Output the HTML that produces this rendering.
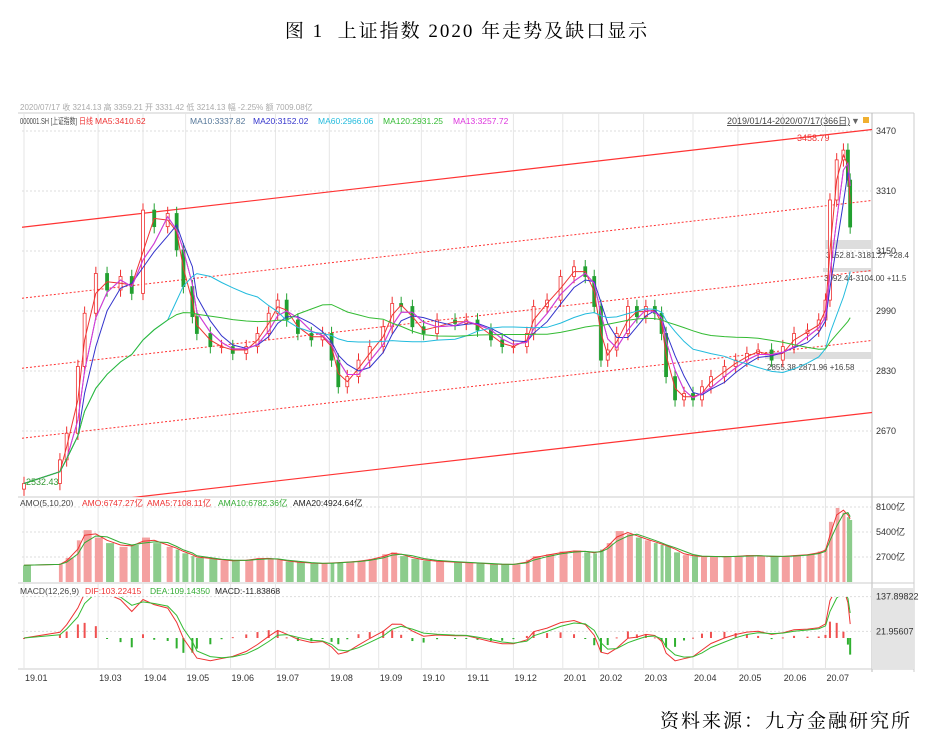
<!DOCTYPE html>
<html><head><meta charset="utf-8">
<style>
body{margin:0;background:#fff;width:934px;height:746px;overflow:hidden;font-family:"Liberation Sans","Noto Sans CJK SC",sans-serif;}
#title{position:absolute;left:0;width:934px;top:16px;text-align:center;font-family:"Liberation Serif","Noto Serif CJK SC",serif;font-size:19px;letter-spacing:2px;}
#source{position:absolute;right:22px;top:706px;font-family:"Liberation Serif","Noto Serif CJK SC",serif;font-size:19px;letter-spacing:2px;}
svg{position:absolute;left:0;top:0;}
</style></head><body>
<div id="title">图 1&nbsp; 上证指数 2020 年走势及缺口显示</div>
<svg id="c" width="934" height="746"></svg>
<div id="source">资料来源：九方金融研究所</div>
<script>
// trading-day index of sampled points
const dayIdx=[0,16,19,24,27,32,37,43,48,53,58,64,68,71,75,77,83,88,93,99,104,109,113,117,122,128,133,137,140,144,149,154,160,164,168,173,178,184,192,197,202,208,213,218,224,227,233,239,245,250,254,257,260,264,269,273,277,281,284,286,290,294,298,302,306,312,317,322,327,333,338,343,349,354,357,359,362,365,367,368];
const closes=[2530,2593,2664,2842,2984,3090,3046,3082,3037,3259,3215,3250,3153,3055,2975,2930,2895,2895,2877,2895,2930,2984,3019,2966,2930,2913,2930,2859,2788,2815,2859,2895,2948,3010,3002,2948,2930,2966,2957,2966,2939,2913,2895,2895,2930,3002,3019,3082,3108,3082,3002,2859,2886,2930,3002,2975,3002,2984,2930,2815,2753,2770,2753,2788,2815,2842,2859,2877,2886,2859,2895,2930,2939,2966,3019,3286,3393,3419,3339,3214];
const volumes=[1800,2000,2600,4500,5600,4800,4200,3800,4000,4800,4200,3800,3500,3100,2800,2600,2500,2300,2300,2400,2600,2500,2400,2200,2100,2000,2000,2100,2100,2200,2300,2500,3000,3200,2800,2500,2300,2200,2100,2100,2000,1900,1900,1900,2400,2800,3000,3300,3400,3200,3100,3500,4200,5500,5200,4800,4500,4200,4000,3900,3200,2900,2800,2700,2800,2700,2800,2900,2800,2700,2800,2900,3000,3300,3600,6500,8000,7500,7000,6700];
const priceTicks=[3470,3310,3150,2990,2830,2670];
const volTicks=[8100,5400,2700];
const macdTicks=[137.89822,21.95607];
const monthLabels=["19.01","19.03","19.04","19.05","19.06","19.07","19.08","19.09","19.10","19.11","19.12","20.01","20.02","20.03","20.04","20.05","20.06","20.07"];
const monthDays=[0,33,53,72,92,112,136,158,177,197,218,240,256,276,298,318,338,357];

var svg=document.getElementById('c');
var NS='http://www.w3.org/2000/svg';
function mk(tag,attrs,parent){var e=document.createElementNS(NS,tag);for(var k in attrs)e.setAttribute(k,attrs[k]);(parent||svg).appendChild(e);return e;}
function txt(x,y,s,fill,size,tl){var a={x:x,y:y,fill:fill||'#333','font-size':size||9};if(tl){a.textLength=tl;a.lengthAdjust='spacingAndGlyphs';}var t=mk('text',a);t.textContent=s;return t;}
var X0=24,XS=2.245,AX=872;
function xS(d){return X0+d*XS;}
function yP(p){return 131+(3470-p)*0.375;}
function yV(v){return 582-v/8100*75;}
function yM(m){return 638-m*0.3;}
function ma(arr,n){return arr.map(function(v,i){var s=arr.slice(Math.max(0,i-n+1),i+1);var t=0;for(var j=0;j<s.length;j++)t+=s[j];return t/s.length;});}
function pathLine(vals,yf,col,g,w){var d=vals.map(function(v,i){return (i?'L':'M')+xS(dayIdx[i]).toFixed(1)+','+yf(v).toFixed(1);}).join('');return mk('path',{d:d,fill:'none',stroke:col,'stroke-width':w||1},g);}
function ema(arr,n){var a=2/(n+1);var e=arr[0];return arr.map(function(v){e=e+a*(v-e);return e;});}
</script>
<script>
// frames and grid
mk('line',{x1:18,y1:113,x2:914,y2:113,stroke:'#ccc'});
mk('line',{x1:914,y1:113,x2:914,y2:672,stroke:'#ccc'});
mk('line',{x1:AX,y1:113,x2:AX,y2:672,stroke:'#bbb'});
mk('line',{x1:18,y1:497,x2:914,y2:497,stroke:'#ccc'});
mk('line',{x1:18,y1:583,x2:914,y2:583,stroke:'#ccc'});
mk('line',{x1:18,y1:669,x2:914,y2:669,stroke:'#ccc'});
mk('rect',{x:AX,y:588,width:42,height:81,fill:'#e4e4e4'});
txt(20,110,'2020/07/17  收 3214.13  高 3359.21  开 3331.42  低 3214.13  幅 -2.25%  额 7009.08亿','#aaa',8);
monthDays.forEach(function(d,i){var x=xS(d);
 [[113,497],[497,583],[583,669]].forEach(function(r){mk('line',{x1:x,y1:r[0],x2:x,y2:r[1],stroke:'#e6e6e6'});});
 var t=txt(x+1,681,monthLabels[i],'#333',9);});
</script>
<script>
// MACD panel
txt(20,594,'MACD(12,26,9)','#444',8.5);txt(85,594,'DIF:103.22415','#e33',8.5);txt(150,594,'DEA:109.14350','#3a3',8.5);txt(215,594,'MACD:-11.83868','#222',8.5);
macdTicks.forEach(function(v){mk('line',{x1:22,y1:yM(v),x2:AX,y2:yM(v),stroke:'#ddd','stroke-dasharray':'2,2'});txt(876,yM(v)+3,v.toFixed(5),'#333',9);});
var mclip=mk('clipPath',{id:'mcp'});mk('rect',{x:22,y:597,width:AX-22,height:70},mclip);
var mg=mk('g',{'clip-path':'url(#mcp)',});
var e1=ema(closes,3),e2=ema(closes,6);
var dif=e1.map(function(v,i){return (v-e2[i])*1.4;});
var dea=ema(dif,2.5);
for(var i=0;i<dif.length;i++){var h=(dif[i]-dea[i])*1.5;var x=xS(dayIdx[i]);
 var b=mk('rect',{x:x-1,y:Math.min(yM(0),yM(h)),width:2,height:Math.max(1,Math.abs(yM(h)-yM(0))),fill:h>=0?'#f05050':'#30b030'},mg);
 
 }
pathLine(dif,yM,'#e33',mg);pathLine(dea,yM,'#3b3',mg);
</script>
<script>
// price panel
var lg=mk('g',{});
lg.appendChild(txt(20,124,'000001.SH [上证指数]','#444',8.5,57));
lg.appendChild(txt(79,124,'日线','#e33',8.5,14));
[['MA5:3410.62',95,'#e33'],['MA10:3337.82',190,'#579'],['MA20:3152.02',253,'#33c'],['MA60:2966.06',318,'#2bd'],['MA120:2931.25',383,'#3b3'],['MA13:3257.72',453,'#d3d']].forEach(function(a){lg.appendChild(txt(a[1],124,a[0],a[2],8.5));});
txt(727,124,'2019/01/14-2020/07/17(366日)','#444',9).setAttribute('text-decoration','underline');
txt(851,124,'▼','#666',9);
mk('rect',{x:863,y:117,width:6,height:6,fill:'#f0b030'});
priceTicks.forEach(function(p){mk('line',{x1:22,y1:yP(p),x2:AX,y2:yP(p),stroke:'#ddd','stroke-dasharray':'2,2'});
 var t=txt(876,yP(p)+3,String(p),'#333',9);});
mk('rect',{x:825,y:240,width:47,height:9,fill:'#ddd'});
mk('rect',{x:823,y:268,width:49,height:4,fill:'#ddd'});
mk('rect',{x:765,y:352,width:107,height:7,fill:'#ddd'});
txt(826,258,'3152.81-3181.27  +28.4','#444',8);
txt(824,281,'3092.44-3104.00   +11.5','#444',8);
txt(767,370,'2855.38-2871.96   +16.58','#444',8);
var clip=mk('clipPath',{id:'cp'});mk('rect',{x:22,y:113,width:AX-22,height:384},clip);
var ch=mk('g',{'clip-path':'url(#cp)',});
[[227,false],[298,true],[368,true],[438,true],[510,false]].forEach(function(a){
 mk('line',{x1:22,y1:a[0]+0.23,x2:AX,y2:a[0]-0.115*(AX-24),stroke:'#f33','stroke-width':a[1]?1:1.2,'stroke-dasharray':a[1]?'2,2':'none'},ch);});
var cg=mk('g',{'clip-path':'url(#cp)'});
for(var i=0;i<closes.length;i++){
 var o=i?closes[i-1]:closes[0]-15,c=closes[i];var up=c>=o;var col=up?'#f03030':'#22a030';
 var x=xS(dayIdx[i]);
 var r=mk('line',{x1:x,y1:yP(Math.max(o,c)+18),x2:x,y2:yP(Math.min(o,c)-18),stroke:col,'stroke-width':1},cg);
 
 
 var b=mk('rect',{x:x-1.5,y:yP(Math.max(o,c)),width:3,height:Math.max(1,Math.abs(yP(o)-yP(c))),fill:up?'#fff':col,stroke:col,'stroke-width':0.8},cg);
 
 
}
[[2,'#e33'],[3,'#579'],[4,'#33c'],[3,'#d3d'],[12,'#2bd'],[24,'#3b3']].forEach(function(a){var p=pathLine(ma(closes,a[0]),yP,a[1],cg);});
txt(797,141,'3458.79','#e33',9);
txt(26,485,'2532.43','#393',9);
</script>
<script>
// volume panel
txt(20,506,'AMO(5,10,20)','#444',8.5);txt(82,506,'AMO:6747.27亿','#e33',8.5);txt(147,506,'AMA5:7108.11亿','#e33',8.5);txt(218,506,'AMA10:6782.36亿','#3a3',8.5);txt(293,506,'AMA20:4924.64亿','#222',8.5);
volTicks.forEach(function(v){mk('line',{x1:22,y1:yV(v),x2:AX,y2:yV(v),stroke:'#ddd','stroke-dasharray':'2,2'});txt(876,yV(v)+3,v+'亿','#333',9);});
for(var i=0;i<volumes.length;i++){var up=i&&closes[i]>=closes[i-1];var x=xS(dayIdx[i]);
 var w=i<volumes.length-1?Math.min(8,Math.max(3,(dayIdx[i+1]-dayIdx[i])*XS-3)):3;
 var b=mk('rect',{x:x-1,y:yV(volumes[i]),width:w,height:582-yV(volumes[i]),fill:up?'#f4a0a0':'#8ccc8c'});
 
 }
pathLine(ma(volumes,2),yV,'#e33');pathLine(ma(volumes,3),yV,'#3a3');pathLine(ma(volumes,5),yV,'#222',1.2);
</script>
</body></html>
